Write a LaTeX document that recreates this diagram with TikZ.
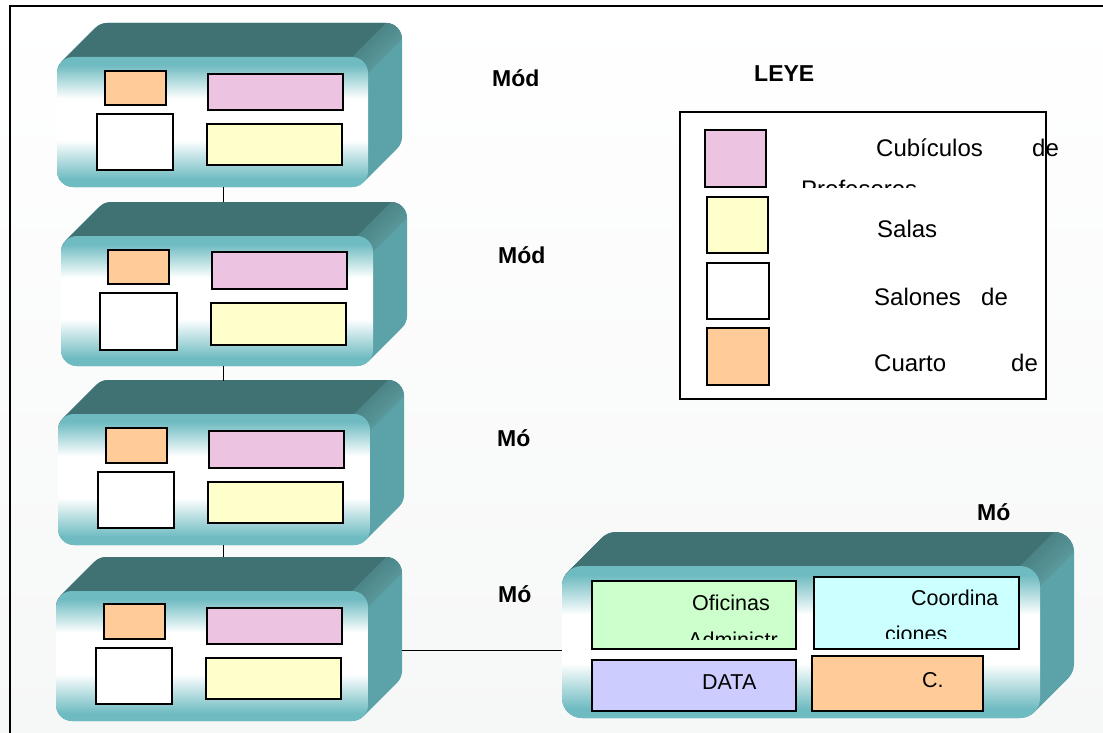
\documentclass[tikz,border=0pt]{standalone}
\usepackage{fontspec}
\setmainfont{Liberation Sans}
\usetikzlibrary{shadings}
\definecolor{topc}{HTML}{417273}
\definecolor{sidec}{HTML}{5BA3A8}
\definecolor{tealF}{HTML}{6EBBC1}
\definecolor{orng}{HTML}{FFCC99}
\definecolor{pnk}{HTML}{ECC4E2}
\definecolor{ylw}{HTML}{FFFFCC}
\definecolor{grn}{HTML}{CCFFCC}
\definecolor{cyn}{HTML}{CCFFFF}
\definecolor{lav}{HTML}{CCCCFF}
\definecolor{bgc}{HTML}{F6F7F7}
\pgfdeclareverticalshading{frontshade}{100bp}{color(0bp)=(tealF); color(28bp)=(tealF); color(43bp)=(white); color(59bp)=(white); color(72bp)=(tealF); color(100bp)=(tealF)}
\tikzset{
  front/.style={shading=frontshade, inner sep=0pt, outer sep=0pt},
  room/.style={draw=black, line width=1.3pt, inner sep=0pt, outer sep=0pt},
  lbl/.style={font=\fontsize{23}{27}\selectfont\bfseries, anchor=base west, inner sep=0pt},
  leg/.style={font=\fontsize{24}{28}\selectfont, anchor=base west, inner sep=0pt},
  intxt/.style={font=\fontsize{21.5}{26}\selectfont, anchor=base west, inner sep=0pt},
  wire/.style={draw=black, line width=1pt}
}
% #1 name, #2 L, #3 T, #4 R, #5 B, #6 radius ; depth 34
\newcommand\modbox[6]{%
  \foreach \k in {0,...,34}{\fill[sidec, rounded corners=#6pt] ({#2+\k},{#3-\k}) rectangle ({#4+\k},{#5-\k});}
  \begin{scope}
    \pgfmathsetmacro\qx{#4-0.29*#6}
    \pgfmathsetmacro\qy{#3+0.29*#6}
    \clip ({#2-60},{#3+#6}) -- ({#2-60},{#3-110}) -- ({\qx+110},{\qy-110}) -- (\qx,\qy) -- ({\qx-#6},{\qy+#6}) -- cycle;
    \foreach \k in {0,...,34}{\fill[topc, rounded corners=#6pt] ({#2+\k},{#3-\k}) rectangle ({#4+\k},{#5-\k});}
  \end{scope}
  % rounded ridge between top and side
  \shade[upper left=topc, lower right=sidec!90!white, upper right=topc!45!sidec, lower left=topc!45!sidec]
    ({#4-#6},{#3}) -- ({#4-#6+34},{#3-34}) arc[start angle=-90, end angle=0, radius=#6] -- ({#4},{#3+#6}) -- cycle;
  \node[front, rounded corners=#6pt, minimum width={(#4-#2)*1pt}, minimum height={(#5-#3)*1pt}] (#1) at ({(#2+#4)/2},{(#3+#5)/2}) {};
}
\newcommand\room[6]{\node[room, fill=#6, minimum width={(#4-#2)*1pt}, minimum height={(#5-#3)*1pt}] (#1) at ({(#2+#4)/2},{(#3+#5)/2}) {};}
\begin{document}
\begin{tikzpicture}[x=1pt,y=-1pt]
\useasboundingbox (0,0) rectangle (1103,733);
\shade[top color=white, bottom color=bgc] (0,0) rectangle (1103,733);
% outer frame
\draw[line width=1.5pt] (10,733) -- (10,6) -- (1103,6);

% modules
\modbox{m1}{57}{57}{368}{187}{16}
\room{m1o}{105}{71}{166}{105}{orng}
\room{m1w}{97}{114}{173}{170}{white}
\room{m1p}{208}{74}{343}{110}{pnk}
\room{m1y}{207}{124}{342}{165}{ylw}

\modbox{m2}{61}{236}{373}{366}{16}
\room{m2o}{108}{250}{169}{284}{orng}
\room{m2w}{100}{293}{177}{350}{white}
\room{m2p}{212}{252}{347}{289}{pnk}
\room{m2y}{211}{303}{346}{345}{ylw}

\modbox{m3}{58}{414}{370}{545}{16}
\room{m3o}{106}{428}{167}{463}{orng}
\room{m3w}{98}{472}{174}{528}{white}
\room{m3p}{209}{431}{344}{468}{pnk}
\room{m3y}{208}{482}{343}{523}{ylw}

\modbox{m4}{56}{591}{368}{721}{16}
\room{m4o}{104}{604}{165}{639}{orng}
\room{m4w}{96}{648}{172}{704}{white}
\room{m4p}{207}{608}{342}{644}{pnk}
\room{m4y}{206}{658}{341}{699}{ylw}

\modbox{m5}{562}{566}{1040}{718}{20}
\room{m5g}{592}{581}{796}{649}{grn}
\room{m5c}{814}{577}{1019}{649}{cyn}
\room{m5l}{592}{660}{796}{711}{lav}
\room{m5o}{812}{656}{983}{711}{orng}

% connectors
\coordinate (c2) at (223,202);
\coordinate (c3) at (223,381);
\coordinate (c4) at (223,557);
\coordinate (c5) at (402,650);
\draw[wire] (m1.south -| c2) -- (c2);
\draw[wire] (m2.south -| c3) -- (c3);
\draw[wire] (m3.south -| c4) -- (c4);
\draw[wire] (c5) -- (m5.west |- c5);

% module 5 texts
\node[intxt] (t1) at (692,610) {Oficinas};
\begin{scope}
  \clip (600,612) rectangle (790,639);
  \node[intxt] (t2) at (688,647) {Administr};
\end{scope}
\node[intxt] (t3) at (911,605) {Coordina};
\begin{scope}
  \clip (820,612) rectangle (1010,638);
  \node[intxt] (t4) at (885,641) {ciones};
\end{scope}
\node[intxt] (t5) at (702,689) {DATA};
\node[intxt] (t6) at (922,687) {C.};

% labels
\node[lbl] (l1) at (492,87) {Mód};
\node[lbl] (l2) at (498,263) {Mód};
\node[lbl] (l3) at (497,446) {Mó};
\node[lbl] (l4) at (498,602) {Mó};
\node[lbl] (l5) at (977,520) {Mó};
\node[lbl] (l6) at (754,82) {LEYE};

% legend
\node[draw=black, line width=1.5pt, fill=white, inner sep=0pt, minimum width=366pt, minimum height=287pt] (leg) at (863,255.5) {};
\room{k1}{705}{130}{766}{187}{pnk}
\room{k2}{707}{197}{768}{253}{ylw}
\room{k3}{707}{263}{769}{319}{white}
\room{k4}{707}{328}{769}{385}{orng}
\node[leg] (e1) at (876,157) {Cubículos};
\node[leg] (e2) at (1032,157) {de};
\begin{scope}
  \clip (790,170) rectangle (1040,187);
  \node[leg] (e3) at (801,197) {Profesores};
\end{scope}
\node[leg] (e4) at (877,237) {Salas};
\node[leg] (e5) at (874,305) {Salones};
\node[leg] (e6) at (981,305) {de};
\node[leg] (e7) at (874,371) {Cuarto};
\node[leg] (e8) at (1011,371) {de};
\end{tikzpicture}
\end{document}
